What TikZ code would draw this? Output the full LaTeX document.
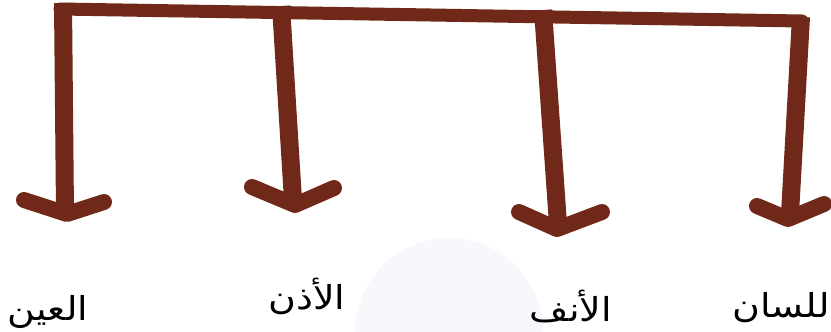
\documentclass[tikz,border=0pt]{standalone}
\usepackage{fontspec}
\TeXXeTstate=1
\newfontfamily\arabicfont[Script=Arabic,FakeStretch=1.15]{DejaVu Sans}
\definecolor{brn}{RGB}{112,41,24}
\definecolor{ghost}{RGB}{246,248,252}
\begin{document}
\begin{tikzpicture}[x=1pt,y=-1pt,
  bar/.style={draw=brn,line width=13pt,line join=round,line cap=round},
  stem/.style={draw=brn,line width=18pt,line cap=butt},
  head/.style={draw=brn,line width=16pt,line join=round,line cap=round},
  lbl/.style={font=\arabicfont\fontsize{33}{38}\selectfont,text=black,inner sep=0pt}]
\useasboundingbox (0,0) rectangle (831,332);
\begin{scope}
  \clip (0,0) rectangle (831,332);
  \fill[ghost] (449,332) circle (94);
\end{scope}
% top bar
\coordinate (tl) at (60,9);
\coordinate (tr) at (802,21);
\draw[bar] (tl) -- (tr);
% stem coordinates
\coordinate (a0) at (63,3);   \coordinate (a1) at (65,212);
\coordinate (b0) at (281,6);  \coordinate (b1) at (293,200);
\coordinate (c0) at (543,10); \coordinate (c1) at (558,224);
\coordinate (d0) at (801,17); \coordinate (d1) at (790,214);
\draw[stem] (a0) -- (a1);
\draw[stem] (b0) -- (b1);
\draw[stem] (c0) -- (c1);
\draw[stem] (d0) -- (d1);
% arrow heads
\coordinate (al) at (24,200);  \coordinate (at) at (67,214);  \coordinate (ar) at (104,202);
\coordinate (bl) at (252,187); \coordinate (bt) at (295,205); \coordinate (br) at (334,188);
\coordinate (cl) at (519,212); \coordinate (ct) at (557,229); \coordinate (cr) at (602,212);
\coordinate (dl) at (757,206); \coordinate (dt) at (788,219); \coordinate (dr) at (824,204);
\draw[head] (al) -- (at) -- (ar);
\draw[head] (bl) -- (bt) -- (br);
\draw[head] (cl) -- (ct) -- (cr);
\draw[head] (dl) -- (dt) -- (dr);
% labels
\node[lbl] (eye)    at (48,312)  {\beginR العين\endR};
\node[lbl] (ear)    at (307,296) {\beginR الأذن\endR};
\node[lbl] (nose)   at (571,306) {\beginR الأنف\endR};
\node[lbl] (tongue) at (781,308) {\beginR للسان\endR};
\end{tikzpicture}
\end{document}
